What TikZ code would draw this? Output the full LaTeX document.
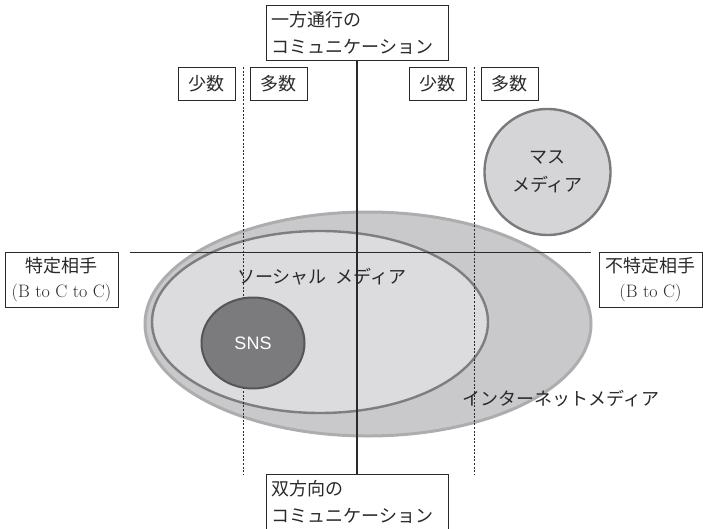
\documentclass[tikz,border=0pt]{standalone}
\usepackage{fontspec}
\newfontfamily\jp{Noto Sans CJK JP}
\setsansfont{Liberation Sans}
\usetikzlibrary{shapes.geometric}
\definecolor{outerfill}{HTML}{C9C9CB}
\definecolor{outerline}{HTML}{ADADAF}
\definecolor{innerfill}{HTML}{DCDCDE}
\definecolor{innerline}{HTML}{7E7E80}
\definecolor{snsfill}{HTML}{7B7B7D}
\definecolor{snsline}{HTML}{565656}
\definecolor{massfill}{HTML}{D5D5D7}
\definecolor{massline}{HTML}{7A7A7C}
\definecolor{ink}{HTML}{2A2A2A}
\tikzset{
  jptext/.style={font=\jp\fontsize{18}{27}\selectfont, text=ink, inner sep=0pt},
  bigbox/.style={draw=ink, line width=0.9pt, fill=white, minimum width=182pt, minimum height=55pt,
    text width=171pt, align=left, font=\jp\fontsize{18}{27}\selectfont, text=ink, inner sep=5pt},
  sidebox/.style={draw=ink, line width=0.9pt, fill=white, minimum height=55pt,
    align=center, font=\fontsize{18}{25}\selectfont, text=ink, inner sep=2pt},
  smallbox/.style={draw=ink, line width=0.9pt, fill=white, minimum width=57pt, minimum height=33pt,
    font=\jp\fontsize{18}{22}\selectfont, text=ink, inner sep=0pt},
  dotline/.style={draw=ink, line width=0.9pt, dash pattern=on 2pt off 1.6pt},
  axisline/.style={draw=ink, line width=1.3pt},
}
\begin{document}
\begin{tikzpicture}[x=1pt,y=-1pt]
\useasboundingbox (0,0) rectangle (703,529);
% ellipses
\node[ellipse, draw=outerline, fill=outerfill, line width=3pt, minimum width=446pt, minimum height=224pt, inner sep=0pt] (outer) at (368,324) {};
\node[ellipse, draw=innerline, fill=innerfill, line width=2.4pt, minimum width=336pt, minimum height=182pt, inner sep=0pt] (inner) at (320,322) {};
% dotted lines
\coordinate (d1t) at (243.5,67);
\coordinate (d1b) at (243.5,475);
\coordinate (d2t) at (474,67);
\coordinate (d2b) at (474,475);
\draw[dotline] (d1t) -- (d1b);
\draw[dotline] (d2t) -- (d2b);
% SNS and mass media
\node[ellipse, draw=snsline, fill=snsfill, line width=2pt, minimum width=103pt, minimum height=91pt, inner sep=0pt,
  font=\sffamily\fontsize{18}{20}\selectfont, text=white] (sns) at (253,343) {SNS};
\node[circle, draw=massline, fill=massfill, line width=2.4pt, minimum size=126pt, inner sep=0pt,
  font=\jp\fontsize{18}{28}\selectfont, text=ink, align=center] (mass) at (547.5,172) {マス\\メディア};
% axis lines
\coordinate (hl) at (130,252.5);
\coordinate (hr) at (591,252.5);
\draw[axisline] (hl) -- (hr);
% boxes
\node[bigbox] (top) at (357,32.5) {一方通行の\\コミュニケーション};
\node[bigbox] (bottom) at (357,501.5) {双方向の\\コミュニケーション};
\draw[axisline] (top.south) -- (bottom.north);
\node[sidebox, minimum width=113pt] (left) at (61.5,279.5) {{\jp 特定相手}\\(B to C to C)};
\node[sidebox, minimum width=103pt] (right) at (650.5,279.5) {{\jp 不特定相手}\\(B to C)};
\node[smallbox] (s1) at (206.5,83.5) {少数};
\node[smallbox] (m1) at (278.5,83.5) {多数};
\node[smallbox] (s2) at (437.5,83.5) {少数};
\node[smallbox] (m2) at (509.5,83.5) {多数};
% labels
\node[jptext] (social) at (322,277) {ソーシャル\hspace{0.5em}メディア};
\node[jptext] (internet) at (561,399) {インターネットメディア};
\end{tikzpicture}
\end{document}
